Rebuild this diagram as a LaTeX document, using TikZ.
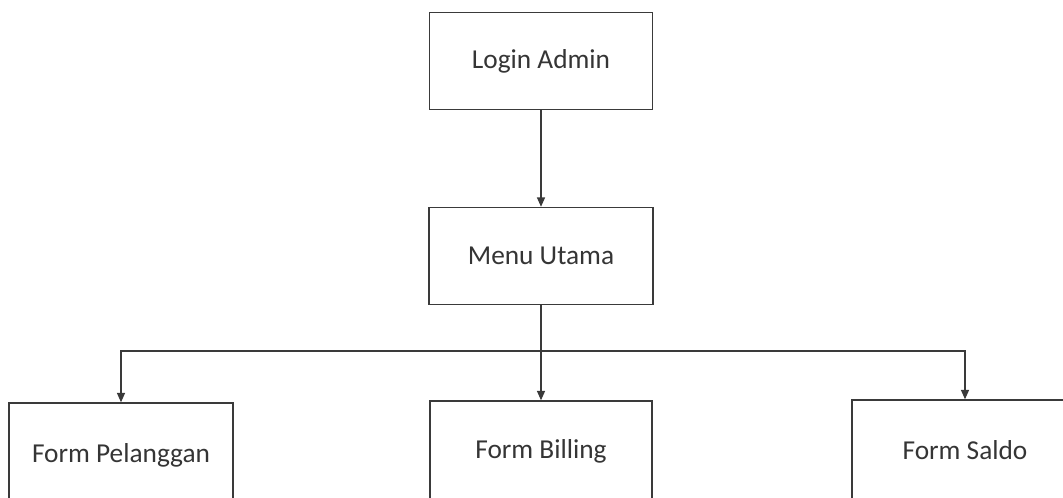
\documentclass[tikz,border=0pt]{standalone}
\usepackage{fontspec}
\setmainfont{Carlito}
\usetikzlibrary{arrows.meta}
\definecolor{ink}{HTML}{3A3A3A}
\definecolor{txt}{HTML}{353535}
\tikzset{
  box/.style={draw=ink, line width=1.1pt, fill=white, minimum width=#1*0.75pt, inner sep=0pt, text=txt, font=\fontsize{20.5}{24}\selectfont},
  box/.default=224,
  conn/.style={draw=ink, line width=0.9pt, -{Triangle[length=7pt,width=6pt]}},
  plain/.style={draw=ink, line width=0.9pt}
}
\begin{document}
\begin{tikzpicture}[x=0.75pt,y=-0.75pt]
\useasboundingbox (0,0) rectangle (1063,497);
\node[box=223, minimum height=72.75pt] (login) at (541,61) {Login Admin};
\node[box=224, minimum height=72.75pt] (menu) at (541,256) {Menu Utama};
\node[box=224, minimum height=78pt] (pel) at (121,455) {Form Pelanggan};
\node[box=222, minimum height=75pt] (bill) at (541,451) {Form Billing};
\node[box=226, minimum height=75pt] (saldo) at (965,450) {Form Saldo};
\coordinate (j) at (541,351);
\draw[conn] (login) -- (menu);
\draw[conn] (menu) -- (bill);
\draw[conn] (j) -| (pel);
\draw[conn] (j) -| (saldo);
\end{tikzpicture}
\end{document}
